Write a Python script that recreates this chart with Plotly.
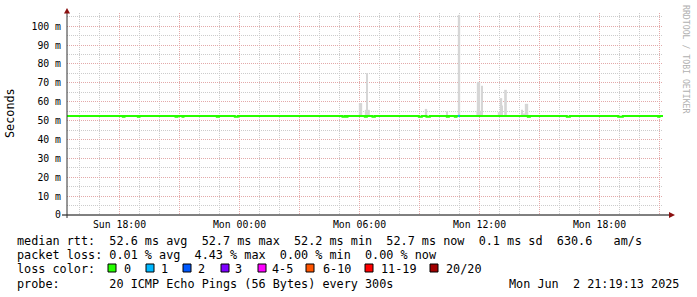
import pandas as pd
import plotly.graph_objects as go

W, H = 697, 297
PL, PR, PT, PB = 67, 663, 13, 215  # plot area pixel edges

x_range = ["2025-06-01 15:22:30", "2025-06-02 21:10:30"]
y_range = [0, 107]

x_tick_vals = ["2025-06-01 18:00", "2025-06-01 21:00", "2025-06-02 00:00", "2025-06-02 03:00",
               "2025-06-02 06:00", "2025-06-02 09:00", "2025-06-02 12:00", "2025-06-02 15:00",
               "2025-06-02 18:00", "2025-06-02 21:00"]
x_tick_text = ["Sun 18:00", "", "Mon 00:00", "", "Mon 06:00", "", "Mon 12:00", "", "Mon 18:00", ""]

y_tick_vals = [0, 10, 20, 30, 40, 50, 60, 70, 80, 90, 100]
y_tick_text = ["0", "10 m", "20 m", "30 m", "40 m", "50 m", "60 m", "70 m", "80 m", "90 m", "100 m"]

# median rtt (ms), step series
median_time = ["2025-06-01 15:22:30",
               "2025-06-01 18:10", "2025-06-01 18:15",
               "2025-06-01 18:55", "2025-06-01 19:00",
               "2025-06-01 20:48", "2025-06-01 20:54",
               "2025-06-01 21:09", "2025-06-01 21:12",
               "2025-06-01 22:52", "2025-06-01 22:58",
               "2025-06-01 23:46", "2025-06-01 23:55",
               "2025-06-02 05:09", "2025-06-02 05:16",
               "2025-06-02 05:21", "2025-06-02 05:24",
               "2025-06-02 06:16", "2025-06-02 06:22",
               "2025-06-02 06:39", "2025-06-02 06:46",
               "2025-06-02 08:58", "2025-06-02 09:07",
               "2025-06-02 09:21", "2025-06-02 09:31",
               "2025-06-02 10:22", "2025-06-02 10:28",
               "2025-06-02 10:46", "2025-06-02 10:51",
               "2025-06-02 14:25", "2025-06-02 14:31",
               "2025-06-02 16:22", "2025-06-02 16:31",
               "2025-06-02 18:56", "2025-06-02 19:10",
               "2025-06-02 20:56", "2025-06-02 21:00",
               "2025-06-02 21:10:30"]
median_ms = [52.5,
             52.0, 52.5,
             52.0, 52.5,
             52.0, 52.5,
             52.0, 52.5,
             52.0, 52.5,
             52.0, 52.5,
             52.0, 52.5,
             52.0, 52.5,
             52.0, 52.5,
             52.0, 52.5,
             52.0, 52.5,
             52.0, 52.5,
             52.0, 52.5,
             52.0, 52.5,
             52.0, 52.5,
             52.0, 52.5,
             52.0, 52.5,
             52.0, 52.5,
             52.5]

# interval with packet loss (loss bucket index 1 -> "1")
loss_time = ["2025-06-02 10:55", "2025-06-02 11:01"]
loss_ms = [52.5, 52.5]
loss_bucket = 1

# smoke (ping spread) spans
smoke_start = ["2025-06-02 05:58", "2025-06-02 06:16", "2025-06-02 06:22", "2025-06-02 09:16",
               "2025-06-02 10:21", "2025-06-02 10:55", "2025-06-02 11:51", "2025-06-02 11:52",
               "2025-06-02 12:06", "2025-06-02 12:55", "2025-06-02 13:01", "2025-06-02 13:07",
               "2025-06-02 13:14", "2025-06-02 14:06", "2025-06-02 14:16", "2025-06-02 14:07"]
smoke_end = ["2025-06-02 06:08", "2025-06-02 06:31", "2025-06-02 06:25", "2025-06-02 09:23",
             "2025-06-02 10:25", "2025-06-02 11:02", "2025-06-02 12:10", "2025-06-02 12:02",
             "2025-06-02 12:10", "2025-06-02 13:08", "2025-06-02 13:08", "2025-06-02 13:10",
             "2025-06-02 13:22", "2025-06-02 14:10", "2025-06-02 14:26", "2025-06-02 14:26"]
smoke_top = [59.3, 55.7, 75.1, 56.2, 54.8, 106.0, 55.2, 70.5,
             68.4, 54.5, 61.9, 58.0, 66.3, 55.7, 58.9, 53.8]
smoke_base = 52.0

loss_labels = ["0", "1", "2", "3", "4-5", "6-10", "11-19", "20/20"]
loss_colors = ["#26ff00", "#00b8ff", "#0059ff", "#7e00ff", "#ff00ff", "#ff5500", "#ff0000", "#a10000"]

stats_lines = [
    "median rtt:  52.6 ms avg  52.7 ms max  52.2 ms min  52.7 ms now  0.1 ms sd  630.6   am/s",
    "packet loss: 0.01 % avg  4.43 % max  0.00 % min  0.00 % now",
]
probe_text = "probe:       20 ICMP Echo Pings (56 Bytes) every 300s"
stamp_text = "Mon Jun  2 21:19:13 2025"

MONO = "DejaVu Sans Mono"
LEG_SIZE = 11.8


def xp(px):
    return (px - PL) / (PR - PL)


def yp(py):
    return (PB - py) / (PB - PT)


def nb(s):
    return s.replace(" ", "\u00a0")


s0 = pd.to_datetime(pd.Series(smoke_start))
s1 = pd.to_datetime(pd.Series(smoke_end))
smoke_mid = s0 + (s1 - s0) / 2
smoke_width = (s1 - s0).dt.total_seconds() * 1000

fig = go.Figure()
fig.add_trace(go.Bar(
    x=smoke_mid, y=[t - smoke_base for t in smoke_top], base=smoke_base,
    width=list(smoke_width), marker=dict(color="#d6d6d6", line=dict(width=0)),
    hoverinfo="skip", showlegend=False))
fig.add_trace(go.Scatter(
    x=median_time, y=median_ms, mode="lines",
    line=dict(color=loss_colors[0], width=2, shape="hv"), showlegend=False))
fig.add_trace(go.Scatter(
    x=loss_time, y=loss_ms, mode="lines",
    line=dict(color=loss_colors[loss_bucket], width=2, shape="hv"), showlegend=False))

grid_major = "#e3a9a9"
grid_minor = "#cccccc"

fig.update_layout(
    width=W, height=H,
    margin=dict(l=PL, r=W - PR, t=PT, b=H - PB),
    paper_bgcolor="white", plot_bgcolor="white",
    barmode="overlay",
    showlegend=False,
    font=dict(family=MONO, color="black"),
    xaxis=dict(
        type="date", range=x_range,
        tickmode="array", tickvals=x_tick_vals, ticktext=x_tick_text,
        tickfont=dict(family=MONO, size=9.8, color="black"),
        showgrid=True, gridcolor=grid_major, griddash="1px,1px", gridwidth=1,
        minor=dict(dtick=3600000, tick0="2025-06-01 00:00", showgrid=True,
                   gridcolor=grid_minor, griddash="1px,1px", gridwidth=1),
        showline=False, zeroline=False, ticks="", ticklabelstandoff=2,
    ),
    yaxis=dict(
        range=y_range,
        tickmode="array", tickvals=y_tick_vals, ticktext=y_tick_text,
        tickfont=dict(family=MONO, size=9.8, color="black"),
        showgrid=True, gridcolor=grid_major, griddash="1px,1px", gridwidth=1,
        minor=dict(dtick=5, tick0=0, showgrid=True,
                   gridcolor=grid_minor, griddash="1px,1px", gridwidth=1),
        showline=False, zeroline=False, ticks="", ticklabelstandoff=5,
    ),
)

shapes = []
# axis lines
shapes.append(dict(type="line", xref="paper", yref="paper",
                   x0=xp(62), x1=xp(670), y0=yp(PB), y1=yp(PB),
                   line=dict(color="black", width=1)))
shapes.append(dict(type="line", xref="paper", yref="paper",
                   x0=xp(PL), x1=xp(PL), y0=yp(218), y1=yp(11),
                   line=dict(color="#303030", width=1)))
# arrows
ux0, ux1 = xp(64), xp(70)
shapes.append(dict(type="path", xref="paper", yref="paper",
                   path=f"M {ux0} {yp(13.5)} L {ux1} {yp(13.5)} L {xp(67)} {yp(8)} Z",
                   fillcolor="#8b1010", line=dict(width=0)))
shapes.append(dict(type="path", xref="paper", yref="paper",
                   path=f"M {xp(669)} {yp(212)} L {xp(669)} {yp(218)} L {xp(675)} {yp(215)} Z",
                   fillcolor="#8b1010", line=dict(width=0)))

# loss colour boxes
box_x = [108, 146, 183, 221, 258, 306, 365, 430]
label_x = [123, 160, 197, 234, 271, 322, 380, 445]
for bx, col in zip(box_x, loss_colors):
    shapes.append(dict(type="rect", xref="paper", yref="paper",
                       x0=xp(bx), x1=xp(bx + 8), y0=yp(272), y1=yp(264),
                       fillcolor=col, line=dict(color="black", width=1)))
fig.update_layout(shapes=shapes)

ann = []


def text_at(px, py, s, size=LEG_SIZE, color="black", xanchor="left", angle=0):
    ann.append(dict(x=xp(px), y=yp(py), xref="paper", yref="paper", text=nb(s),
                    showarrow=False, xanchor=xanchor, yanchor="middle", borderpad=0,
                    textangle=angle, font=dict(family=MONO, size=size, color=color)))


text_at(16, 241, stats_lines[0])
text_at(16, 255.3, stats_lines[1])
text_at(16, 269.3, "loss color:")
for lx, lab in zip(label_x, loss_labels):
    text_at(lx, 269.3, lab)
text_at(16, 283.7, probe_text)
text_at(680, 283.7, stamp_text, xanchor="right")
# y axis title
ann.append(dict(x=xp(10), y=yp(113), xref="paper", yref="paper", text="Seconds",
                showarrow=False, xanchor="center", yanchor="middle", textangle=-90,
                font=dict(family=MONO, size=LEG_SIZE, color="black")))
# watermark
ann.append(dict(x=xp(686), y=yp(59), xref="paper", yref="paper", text=nb("RRDTOOL / TOBI OETIKER"),
                showarrow=False, xanchor="center", yanchor="middle", textangle=90,
                font=dict(family=MONO, size=8.2, color="#b0b0b0")))
fig.update_layout(annotations=ann)

fig.write_html("out.html")
